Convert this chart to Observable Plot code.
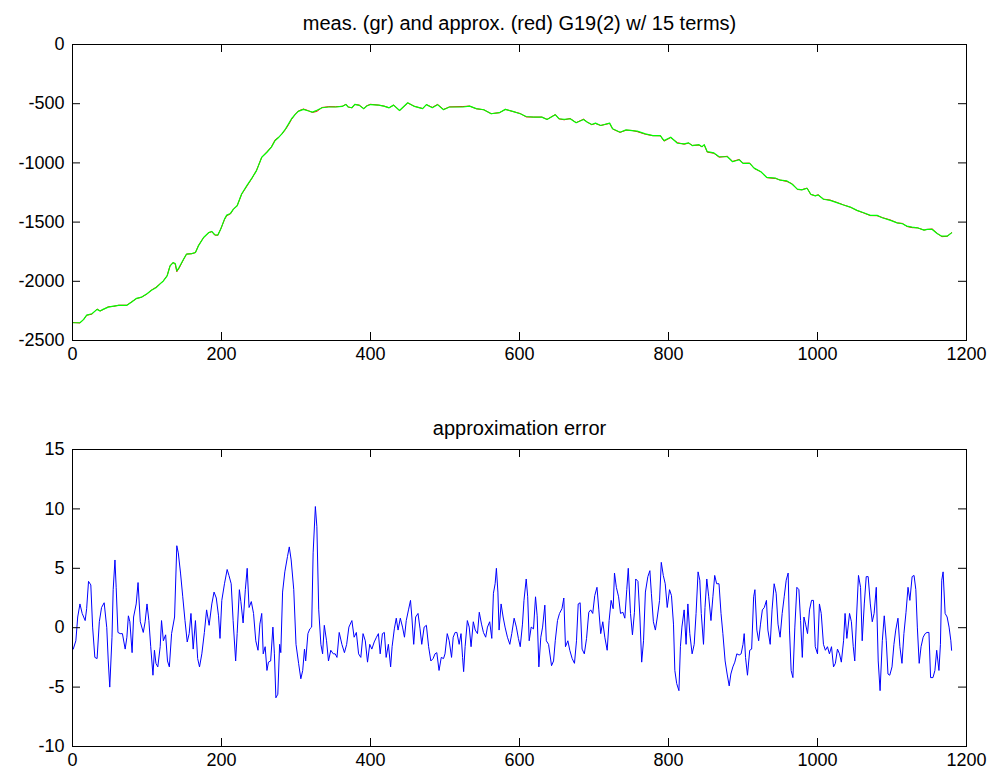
<!DOCTYPE html>
<html>
<head>
<meta charset="utf-8">
<script src="https://cdn.jsdelivr.net/npm/d3@7"></script>
<script src="https://cdn.jsdelivr.net/npm/@observablehq/plot@0.6"></script>
<style>
  html, body { margin: 0; padding: 0; background: #fff; }
  #fig { position: relative; width: 991px; height: 774px; background: #fff; overflow: hidden; }
  #fig svg { position: absolute; left: 0; }
</style>
</head>
<body>
<div id="fig"></div>
<script>
// ---- titles & ticks ----
const titleTop = "meas. (gr) and approx. (red) G19(2) w/ 15 terms)";
const titleBottom = "approximation error";
const xTicks = [0, 200, 400, 600, 800, 1000, 1200];
const yTicksTop = [-2500, -2000, -1500, -1000, -500, 0];
const yTicksBottom = [-10, -5, 0, 5, 10, 15];

// ---- measured signal (green) and approximation (red), same sample positions ----
const measX = [1,10,15,19,26,33,37,41,48,55,62,73,80,86,93,100,106,112,118,122,127,131,135,138,140,143,149,153,160,165,169,176,183,187,191,195,199,204,207,212,216,221,227,234,241,247,254,261,267,272,277,281,286,290,294,299,303,310,317,322,328,335,344,353,362,367,370,375,379,385,391,395,400,411,418,425,431,439,450,459,470,475,483,490,498,506,524,533,542,552,562,573,581,591,601,609,619,630,637,648,653,660,668,676,686,691,697,702,709,721,725,735,743,751,758,769,779,789,794,803,812,821,827,832,841,845,848,852,861,868,879,886,895,900,909,915,924,932,944,950,959,966,973,979,986,991,997,1001,1008,1017,1026,1035,1044,1053,1062,1071,1080,1087,1098,1107,1114,1120,1127,1134,1143,1147,1154,1161,1167,1174,1180];
const measY = [-2350,-2350,-2322,-2285,-2274,-2237,-2251,-2237,-2218,-2209,-2203,-2203,-2172,-2144,-2133,-2105,-2076,-2054,-2020,-1997,-1955,-1870,-1842,-1850,-1912,-1884,-1814,-1771,-1766,-1757,-1701,-1630,-1588,-1579,-1607,-1610,-1559,-1475,-1441,-1427,-1390,-1362,-1263,-1192,-1127,-1065,-952,-910,-867,-811,-783,-754,-712,-670,-627,-590,-565,-548,-562,-571,-556,-534,-528,-528,-523,-506,-528,-534,-506,-514,-542,-520,-507,-512,-520,-535,-512,-557,-492,-523,-542,-508,-534,-508,-551,-528,-528,-520,-542,-551,-585,-576,-548,-565,-585,-608,-613,-613,-633,-593,-627,-633,-627,-661,-633,-656,-676,-664,-684,-664,-712,-741,-721,-727,-732,-755,-769,-769,-812,-783,-834,-840,-831,-854,-846,-863,-846,-905,-916,-948,-948,-990,-973,-1004,-1004,-1044,-1075,-1123,-1129,-1146,-1152,-1180,-1222,-1228,-1214,-1265,-1279,-1271,-1307,-1316,-1336,-1356,-1373,-1401,-1421,-1443,-1443,-1463,-1486,-1506,-1514,-1534,-1543,-1548,-1568,-1562,-1562,-1599,-1619,-1619,-1591];
const approxY = [-2348,-2352,-2323,-2287,-2278,-2234,-2251,-2239,-2215,-2212,-2202,-2202,-2170,-2146,-2133,-2107,-2074,-2051,-2018,-1996,-1952,-1867,-1843,-1857,-1919,-1890,-1817,-1770,-1767,-1758,-1698,-1630,-1588,-1581,-1610,-1611,-1558,-1479,-1446,-1431,-1391,-1362,-1265,-1197,-1129,-1063,-953,-906,-864,-805,-782,-757,-717,-677,-633,-589,-562,-545,-560,-574,-565,-532,-525,-526,-522,-505,-528,-535,-506,-512,-542,-517,-505,-512,-520,-534,-512,-558,-494,-522,-541,-508,-531,-506,-548,-527,-524,-520,-543,-551,-584,-576,-548,-566,-583,-612,-613,-613,-632,-592,-628,-636,-625,-660,-631,-655,-677,-667,-684,-666,-714,-742,-724,-726,-736,-758,-770,-771,-816,-786,-829,-842,-833,-852,-850,-864,-848,-909,-919,-952,-944,-987,-971,-1003,-1002,-1047,-1075,-1125,-1132,-1145,-1157,-1176,-1225,-1226,-1213,-1267,-1277,-1269,-1306,-1314,-1334,-1355,-1374,-1402,-1423,-1445,-1446,-1462,-1482,-1507,-1511,-1537,-1547,-1548,-1567,-1562,-1558,-1597,-1623,-1620,-1589];

// ---- approximation error (blue) ----
const errX = [1,4.5,7,10,13,17,19,21.5,24.6,27,30,33,36,39,42.5,46,48,50,53,54.6,57,58.6,61,64,67,70.7,73,75,77,80,82,85.5,88,91,95,97.5,100,102.5,105,108,110,112,114.5,117.7,119.5,122,125,127.5,130,133,137,140,142,145,148,151,154,156.6,159,162,165,168,170.5,173.6,177,180,183.4,187,190,193,196,198,200.4,204,207.6,210,213,215.6,219,221,224,226,229,232,234.5,237,240,243,246,249,251.5,254,256,258.6,261,263,266,269,271,273,275.6,278,279.6,282,285,288.6,291,293.5,297,300,303.5,306.5,309,311.4,313,316,318.6,321,323,326,328,330.5,333.4,335.7,338,341,343.6,346.7,350,352.6,355,358,361.6,365,368,371,375,378,381,384,387,390,393,396,399,401.8,405,408,410.6,413,416,418.6,421,424,427,429,432,434.6,437,440,443,445.6,448,451,453.7,455.5,458,460.6,463.8,466.5,468.8,472,475,478,481,484,486.6,489,492,495,498,500,503,505.6,508.8,511,513.6,516,519,521.5,523.6,525,527,530,532.5,535,538,540.6,543.6,546,549,551.6,554.6,557,560,562.8,565,567.3,569,571,572.6,575.3,578,580.6,583.8,587,589.6,592.8,595.8,598.5,601,604,606,609,611,613,615.7,618.8,621.5,623.7,626,628.6,631,634,636,639,643,645.7,648,651,653.7,657,659.5,661.7,664.9,667.5,670.7,673.8,676.5,678.8,681.4,684,687,690,693,695.6,698.3,701,704,706.5,709,711.8,714.5,717.7,720.3,723,725.7,727.5,730,733,735.6,738.8,741.4,744,746,749,751.6,754.3,756,759,761.6,764,766.5,769,772.3,775,777,779.7,782.4,785,788,790.3,793,795.6,798.3,801.4,804,806.7,808.5,811,814,816,818,821,823.6,826,828.6,831.7,834.5,837,839.7,842,844,847,849,851.4,854,857,859.6,862,864.6,867.8,870.5,873,876,878.7,881.5,883.7,886.4,889,891.7,894.8,897.5,900,901.6,903.4,906,909,911.6,914.3,916,918.6,921,923.5,926,928.6,931.5,933.4,936.5,939,941.8,944.5,947,949.8,952.6,955.3,958,960.6,962.4,964.6,967,969.6,972.3,975,977.3,979.6,981.8,984,986.6,989.3,992,994.6,997,1000,1002.6,1005,1008,1010.6,1013.4,1016,1018.8,1021.5,1024,1026.8,1029.5,1032,1035,1037,1039.4,1043,1045.5,1048,1050,1052.4,1055,1057.8,1060,1062.8,1065.4,1068,1070.9,1073.5,1076,1078.9,1081.5,1084,1087,1089.6,1092.3,1094.6,1097,1100,1102.6,1105,1108,1110.6,1113.4,1116,1118.8,1121.5,1124,1127,1129.6,1132,1134,1136.5,1139,1141.8,1144.5,1147,1149.6,1151.8,1155,1157.6,1160,1163,1165,1166.8,1168.6,1171.3,1174,1176.6,1179,1180];
const errY = [-1.8,-1.1,0.9,2.0,1.2,0.6,1.6,3.9,3.6,0.05,-2.5,-2.6,0.5,1.7,2.1,0,-2.8,-5.0,-0.8,3.2,5.7,3.4,-0.4,-0.5,-0.5,-1.8,-0.8,1.0,0.5,-2.1,0.9,2.0,3.8,0.5,-0.4,0.5,2.0,0.6,-1.6,-4.0,-1.9,-3.0,-3.3,-1.6,0.6,-1.1,-0.6,-2.8,-3.3,-0.5,0.9,6.9,6.3,4.6,2.6,0.6,-1.2,-0.5,1.2,-1.8,0.6,-2.6,-3.3,-2.2,-0.4,1.5,0.2,2.0,3.0,2.5,1.0,-0.9,2.3,3.7,4.9,4.4,3.7,0.6,-2.8,-0.5,3.2,2.2,0.4,3.2,5.0,1.7,2.2,1.2,-1.1,-1.9,0.3,1.2,-2.2,-1.6,-3.6,-2.9,-2.8,0.05,-2.2,-5.9,-5.6,-1.4,-2.1,3.0,4.7,6.0,6.8,5.7,3.2,-1.4,-3.0,-4.3,-3.6,-1.8,-2.8,-0.5,-0.1,0.05,6.3,10.2,8.5,1.5,-1.4,-2.2,0.2,-1.1,-2.8,-1.9,-2.2,-2.2,-2.5,-0.4,-1.4,-2.1,-1.4,0.05,0.6,-0.8,-0.4,-2.2,-2.5,-0.5,-1.1,-2.9,-1.4,-1.8,-1.2,-0.8,-0.5,-2.2,-0.5,-0.4,-2.5,-1.4,-3.3,-1.6,-0.1,0.8,-0.2,0.8,0.05,-0.8,0.6,1.5,2.3,0.9,-1.4,0.9,1.2,-0.1,-1.4,0.05,0.2,-1.6,-2.8,-2.6,-2.2,-2.1,-3.6,-2.5,-2.6,-2.2,-0.5,-1.1,-2.5,-0.8,-0.4,-0.4,-1.4,-0.5,-2.5,-3.7,-1.6,0.6,0.05,-1.6,0.5,-0.2,-0.5,1.3,0.3,-0.4,-0.8,0.05,0.5,-0.9,2.9,3.7,5.0,3.0,-0.2,2.0,0.9,0.05,-0.8,-1.4,-0.5,0.8,0.05,-0.9,-1.6,0.3,2.3,4.1,2.6,-1.1,0.05,-0.1,2.6,1.0,-3.3,-0.8,0.05,1.9,-1.1,-1.4,-3.2,-2.8,-1.1,0.6,1.2,1.6,2.5,-1.6,-1.1,-1.9,-2.6,-3.0,-1.1,2.0,2.1,-1.8,-2.2,-0.9,1.3,1.5,1.2,2.7,3.4,1.5,-0.5,0.5,-0.8,-1.9,0.6,2.3,1.6,4.6,3.4,2.6,1.2,1.3,0.8,3.2,5.0,1.2,-0.6,1.3,4.1,3.9,0.9,-2.9,-1.1,3.0,4.3,4.8,2.9,0.5,-0.2,0.9,2.3,5.5,4.4,3.7,1.7,3.2,2.7,0.3,-3.6,-4.7,-5.3,-1.6,0.05,1.5,-1.4,2.0,-0.5,-2.2,-1.4,1.2,4.7,4.0,1.2,-1.4,1.7,4.1,2.6,0.6,2.6,4.4,3.7,3.7,1.2,-0.5,-2.8,-3.9,-4.9,-3.9,-3.3,-2.9,-2.2,-2.3,-2.2,-1.4,-0.5,-2.5,-4.0,-1.9,-1.8,2.6,3.2,-0.2,-1.1,0.3,1.5,1.7,2.3,-0.2,-1.4,1.5,3.7,2.9,0.3,-0.8,1.2,2.6,4.0,4.6,-0.2,-3.6,-4.2,0.05,3.4,3.2,0.6,-2.5,0.9,0.3,-0.5,1.5,2.3,2.3,-1.6,-2.2,2.0,1.2,-1.4,-1.9,-1.6,-2.2,-1.6,-3.3,-3.0,-1.8,-2.2,-2.9,-1.1,1.2,-0.9,1.2,0.5,-1.6,-2.8,0.9,4.4,3.4,-1.1,2.0,4.3,4.3,2.0,0.5,1.2,3.4,-2.8,-5.3,-1.1,1.0,-1.1,-3.9,-4.0,-3.3,-1.4,-0.2,0.8,-1.6,-3.0,-0.5,1.3,3.4,2.3,4.3,4.4,3.2,0.05,-3.0,-1.6,-0.8,-0.5,-0.4,-0.4,-4.2,-4.2,-3.6,-1.9,-3.6,-1.4,4.0,4.7,1.2,0.9,0.05,-1.1,-1.9];

const measData = measX.map((x, i) => ({x, y: measY[i]}));
const approxData = measX.map((x, i) => ({x, y: approxY[i]}));
const errData = errX.map((x, i) => ({x, y: errY[i]}));

const W = 991, ML = 72, MR = 25;
const frameW = W - ML - MR; // 894
const fontStyle = { fontFamily: "'Liberation Sans', Arial, Helvetica, sans-serif", fontSize: "18px", background: "transparent", color: "#000", overflow: "visible" };
const TICK = 8;

function panel({height, marginTop, marginBottom, yDomain, yTicks, title, series}) {
  const frameH = height - marginTop - marginBottom;
  return Plot.plot({
    width: W, height, marginLeft: ML, marginRight: MR, marginTop, marginBottom,
    style: fontStyle,
    x: {domain: [0, 1200]},
    y: {domain: yDomain},
    marks: [
      ...series,
      Plot.tickX(xTicks, {x: d => d, insetTop: frameH - TICK, stroke: "#000"}),
      Plot.tickX(xTicks, {x: d => d, insetBottom: frameH - TICK, stroke: "#000"}),
      Plot.tickY(yTicks, {y: d => d, insetRight: frameW - TICK, stroke: "#000"}),
      Plot.tickY(yTicks, {y: d => d, insetLeft: frameW - TICK, stroke: "#000"}),
      Plot.frame({stroke: "#000", strokeWidth: 1}),
      Plot.axisX(xTicks, {anchor: "bottom", tickSize: 0, tickPadding: 7, tickFormat: d => String(d), label: null, fontSize: 18}),
      Plot.axisY(yTicks, {anchor: "left", tickSize: 0, tickPadding: 8, tickFormat: d => String(d), label: null, fontSize: 18}),
      Plot.text([title], {text: d => d, frameAnchor: "top", dy: -21, fontSize: 20, lineAnchor: "middle"})
    ]
  });
}

const topPanel = panel({
  height: 400, marginTop: 44, marginBottom: 60,
  yDomain: [-2500, 0], yTicks: yTicksTop, title: titleTop,
  series: [
    Plot.line(approxData, {x: "x", y: "y", stroke: "#ff0000", strokeWidth: 1}),
    Plot.line(measData, {x: "x", y: "y", stroke: "#00ff00", strokeWidth: 1.2})
  ]
});
const bottomPanel = panel({
  height: 374, marginTop: 49, marginBottom: 28,
  yDomain: [-10, 15], yTicks: yTicksBottom, title: titleBottom,
  series: [
    Plot.line(errData, {x: "x", y: "y", stroke: "#0000ff", strokeWidth: 1})
  ]
});
topPanel.style.top = "0px";
bottomPanel.style.top = "400px";
const fig = document.getElementById("fig");
fig.appendChild(topPanel);
fig.appendChild(bottomPanel);
</script>
</body>
</html>
